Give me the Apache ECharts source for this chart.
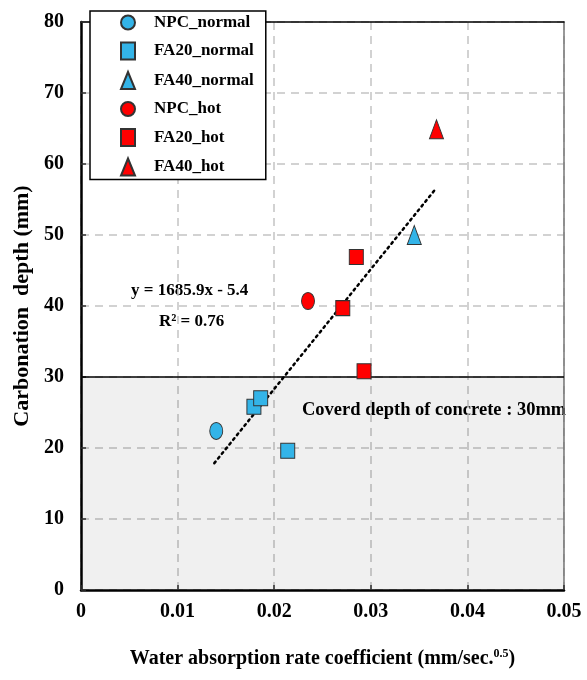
<!DOCTYPE html>
<html><head><meta charset="utf-8">
<script src="https://cdn.jsdelivr.net/npm/echarts@6/dist/echarts.min.js"></script>
<style>html,body{margin:0;padding:0;background:#fff}#c{width:587px;height:680px}</style>
</head><body><div id="c"></div>
<script>
const seriesNames = ['NPC_normal','FA20_normal','FA40_normal','NPC_hot','FA20_hot','FA40_hot'];
const npcNormal = [[0.0140, 22.4]];
const fa20Normal = [[0.0179, 25.8], [0.0186, 27.0], [0.0214, 19.6]];
const fa40Normal = [[0.0345, 50.0]];
const npcHot = [[0.0235, 40.7]];
const fa20Hot = [[0.0271, 39.7], [0.0285, 46.9], [0.0293, 30.8]];
const fa40Hot = [[0.0368, 64.9]];
const trendSlope = 1685.9;
const trendIntercept = -5.4;
const trendXRange = [0.0138, 0.0366];
const coverDepth = 30;
const xTicks = [0, 0.01, 0.02, 0.03, 0.04, 0.05];
const yTicks = [0, 10, 20, 30, 40, 50, 60, 70, 80];

const FONT = '"Liberation Serif", "Times New Roman", serif';
const BLUE = '#33b4e8';
const RED = '#ff0000';
const trendData = trendXRange.map(x => [x, trendSlope * x + trendIntercept]);

function sc(name, data, symbol, size, color) {
  return {
    name, type: 'scatter', data, symbol, symbolSize: size,
    itemStyle: { color, borderColor: '#333', borderWidth: 1, opacity: 1 },
    z: 5
  };
}
const frameAxis = { min: 0, show: true, axisLabel: { show: false }, axisTick: { show: false }, splitLine: { show: false } };

const chart = echarts.init(document.getElementById('c'));
chart.setOption({
  animation: false,
  backgroundColor: '#fff',
  grid: { left: 81, right: 23, top: 22, bottom: 90 },
  legend: {
    orient: 'vertical', left: 90, top: 11,
    data: seriesNames,
    backgroundColor: '#fff', borderColor: '#000', borderWidth: 1.5, borderRadius: 0,
    padding: [3, 12, 3, 30], itemGap: 10.5, itemWidth: 14, itemHeight: 17,
    textStyle: { fontFamily: FONT, fontWeight: 'bold', fontSize: 17, color: '#000', padding: [0, 0, 0, 14] },
    z: 10
  },
  xAxis: [{
    type: 'value', min: 0, max: 0.05, interval: 0.01,
    name: '{t|Water absorption rate coefficient (mm/sec.}{s|0.5}{t|)}',
    nameLocation: 'middle', nameGap: 58,
    nameTextStyle: { rich: {
      t: { fontFamily: FONT, fontWeight: 'bold', fontSize: 20, color: '#000' },
      s: { fontFamily: FONT, fontWeight: 'bold', fontSize: 12, color: '#000', verticalAlign: 'top', padding: [0,0,10,0] }
    } },
    axisLine: { show: true, lineStyle: { color: '#000', width: 2.5 } },
    axisTick: { show: true, inside: true, length: 5, lineStyle: { color: '#333', width: 1.5 } },
    axisLabel: { margin: 12, fontFamily: FONT, fontWeight: 'bold', fontSize: 20, color: '#000',
      formatter: v => String(xTicks.find(t => Math.abs(t - v) < 1e-9) ?? v) },
    splitLine: { show: true, lineStyle: { color: '#c4c4c4', width: 1.5, type: [8, 6] } }
  }, Object.assign({ type: 'value', position: 'top', max: 0.05,
      axisLine: { show: true, onZero: false, lineStyle: { color: '#000', width: 1.5 } } }, frameAxis)],
  yAxis: [{
    type: 'value', min: 0, max: 80, interval: 10,
    name: 'Carbonation  depth (mm)', nameLocation: 'middle', nameGap: 48,
    nameTextStyle: { fontFamily: FONT, fontWeight: 'bold', fontSize: 22, color: '#000' },
    axisLine: { show: true, lineStyle: { color: '#000', width: 2.5 } },
    axisTick: { show: true, inside: true, length: 5, lineStyle: { color: '#333', width: 1.5 } },
    axisLabel: { margin: 17, fontFamily: FONT, fontWeight: 'bold', fontSize: 20, color: '#000',
      formatter: v => String(yTicks.find(t => t === v) ?? v) },
    splitLine: { show: true, lineStyle: { color: '#c4c4c4', width: 1.5, type: [8, 6] } }
  }, Object.assign({ type: 'value', position: 'right', max: 80,
      axisLine: { show: true, onZero: false, lineStyle: { color: '#777', width: 1.5 } } }, frameAxis)],
  series: [
    {
      name: 'cover', type: 'line', data: [], silent: true,
      markArea: { silent: true, itemStyle: { color: 'rgba(0,0,0,0.06)' },
        data: [[{ yAxis: 0 }, { yAxis: coverDepth }]] },
      markLine: { silent: true, symbol: 'none', label: { show: false },
        lineStyle: { color: '#000', width: 1.5, type: 'solid' },
        data: [{ yAxis: coverDepth }] },
      z: 1
    },
    {
      name: 'trend', type: 'line', data: trendData, symbol: 'none', silent: true,
      lineStyle: { color: '#000', width: 2.5, type: [2, 4], cap: 'round' }, z: 3
    },
    sc('NPC_normal', npcNormal, 'circle', [13, 17], BLUE),
    sc('FA20_normal', fa20Normal, 'rect', [14, 15], BLUE),
    sc('FA40_normal', fa40Normal, 'triangle', [14, 19], BLUE),
    sc('NPC_hot', npcHot, 'circle', [13, 17], RED),
    sc('FA20_hot', fa20Hot, 'rect', [14, 15], RED),
    sc('FA40_hot', fa40Hot, 'triangle', [14, 19], RED)
  ],
  graphic: [
    { type: 'text', left: 131, top: 282, style: { text: 'y = 1685.9x - 5.4', fontFamily: FONT, fontWeight: 'bold', fontSize: 17, fill: '#000' } },
    { type: 'text', left: 159, top: 313, style: { text: 'R² = 0.76', fontFamily: FONT, fontWeight: 'bold', fontSize: 17, fill: '#000' } },
    { type: 'text', left: 302, top: 401, style: { text: 'Coverd depth of concrete : 30mm', fontFamily: FONT, fontWeight: 'bold', fontSize: 18.5, fill: '#000' } }
  ]
});
</script></body></html>
